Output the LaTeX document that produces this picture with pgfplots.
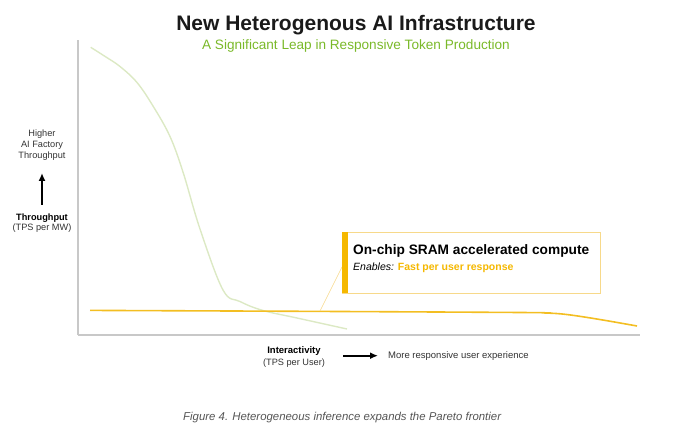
\documentclass[border=0pt]{standalone}
\usepackage{fontspec}
\setmainfont{Liberation Sans}
\usepackage{pgfplots}
\pgfplotsset{compat=1.18}
\usetikzlibrary{arrows.meta}
\definecolor{axgray}{HTML}{C8C8C8}
\definecolor{nvgreen}{HTML}{7AB929}
\definecolor{lgreen}{HTML}{DCE9C4}
\definecolor{nvyellow}{HTML}{F3BE22}
\definecolor{boxyellow}{HTML}{F7D98A}
\definecolor{baryellow}{HTML}{F5B800}
\definecolor{capgray}{HTML}{555555}
\begin{document}
\begin{tikzpicture}[x=1pt,y=1pt]
\path[use as bounding box] (0,0) rectangle (680,429);
\begin{axis}[
  at={(78pt,94pt)}, anchor=south west,
  scale only axis, width=562pt, height=295pt,
  xmin=78, xmax=640, ymin=94, ymax=389,
  axis lines=left, axis line style={axgray, line width=1.6pt, -},
  xtick=\empty, ytick=\empty,
  clip=false,
]
\addplot[lgreen, line width=1.4pt, smooth, tension=0.6] coordinates {
 (90.7,381.7) (105,372.6) (120,362.5) (137,346.5) (153,323) (170,292.5)
 (183.3,256) (200,200) (223,139) (240,127.5) (263,118.5)
 (297,111) (347,100)
};
\addplot[nvyellow, line width=1.6pt, smooth, tension=0.6] coordinates {
 (90,118.6) (320,117.6) (520,116.5) (545,116) (560,115.2) (575,113.4) (595,110.3) (615,106.9) (637,103)
};
\end{axis}
% leader line
\draw[boxyellow, line width=0.6pt] (320,118) -- (342,162);
% callout box
\draw[boxyellow, line width=0.7pt, fill=white] (342,136) rectangle (600,197);
\fill[baryellow] (342,136) rectangle (348,197);
\node[anchor=base west, inner sep=0pt] at (353,175)
  {\fontsize{13.7}{15}\selectfont\bfseries On-chip SRAM accelerated compute};
\node[anchor=base west, inner sep=0pt] at (353,159)
  {\fontsize{10.5}{12}\selectfont\itshape Enables: \upshape\bfseries\color{baryellow}Fast per user response};
% title
\node[anchor=base, inner sep=0pt] at (356,398)
  {\fontsize{21}{24}\selectfont\bfseries\color[HTML]{1A1A1A}New Heterogenous AI Infrastructure};
\node[anchor=base, inner sep=0pt] at (356,379.7)
  {\fontsize{13.6}{15}\selectfont\color{nvgreen}A Significant Leap in Responsive Token Production};
% y label
\node[anchor=base, inner sep=0pt] at (42,292) {\fontsize{9.2}{10}\selectfont\color[HTML]{333333}Higher};
\node[anchor=base, inner sep=0pt] at (42,281) {\fontsize{9.2}{10}\selectfont\color[HTML]{333333}AI Factory};
\node[anchor=base, inner sep=0pt] at (42,270) {\fontsize{9.2}{10}\selectfont\color[HTML]{333333}Throughput};
\draw[black, line width=1.8pt, -{Latex[length=8pt,width=7pt]}] (42,224) -- (42,256);
\node[anchor=base, inner sep=0pt] at (42,208) {\fontsize{9.2}{10}\selectfont\bfseries Throughput};
\node[anchor=base, inner sep=0pt] at (42,198) {\fontsize{9.2}{10}\selectfont\color[HTML]{333333}(TPS per MW)};
% x label
\node[anchor=base, inner sep=0pt] at (294,76) {\fontsize{9.5}{10}\selectfont\bfseries Interactivity};
\node[anchor=base, inner sep=0pt] at (294,64) {\fontsize{9.2}{10}\selectfont\color[HTML]{333333}(TPS per User)};
\draw[black, line width=1.8pt, -{Latex[length=8pt,width=7pt]}] (343,73.3) -- (378,73.3);
\node[anchor=base west, inner sep=0pt] at (388,71) {\fontsize{9.5}{11}\selectfont\color[HTML]{333333}More responsive user experience};
% caption
\node[anchor=base west, inner sep=0pt] at (183,9) {\fontsize{11.4}{13}\selectfont\itshape\color{capgray}Figure 4. Heterogeneous inference expands the Pareto frontier};
\end{tikzpicture}
\end{document}
